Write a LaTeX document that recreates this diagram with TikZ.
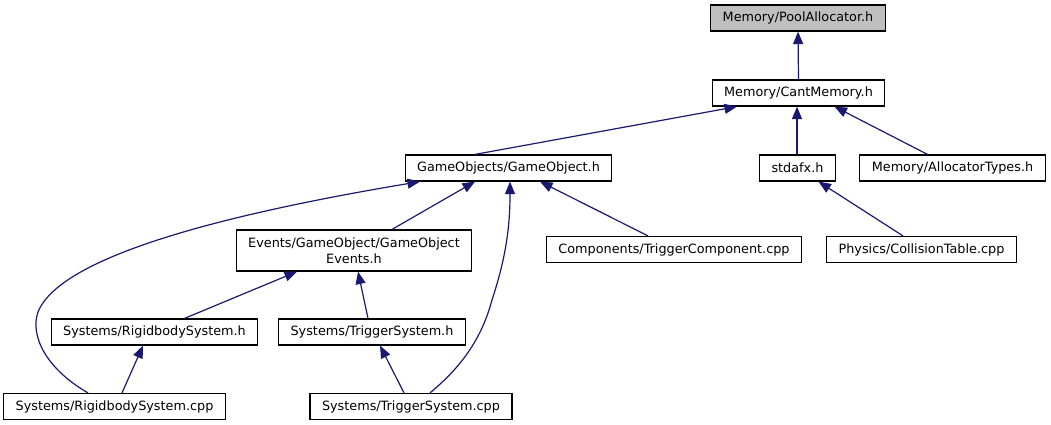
\documentclass[tikz,border=0pt]{standalone}
\usepackage{fontspec}
\setmainfont{DejaVu Sans}
\usetikzlibrary{arrows.meta}

\definecolor{edgeblue}{HTML}{191970}
\definecolor{rootgray}{HTML}{BFBFBF}

\tikzset{
  file/.style={draw=black, line width=1.2pt, fill=white, minimum height=26pt,
    inner xsep=12pt, inner ysep=3pt, font=\fontsize{12.8}{15.5}\selectfont},
  dep/.style={draw=edgeblue, line width=1.2pt,
    -{Triangle[length=12.5pt,width=10pt,fill=edgeblue]}}
}

\begin{document}
\begin{tikzpicture}[x=1pt,y=-1pt]
	% Canvas in pixel units
	\useasboundingbox (0,0) rectangle (1051,425);
	
	% Top row: the header and the one that includes it
	\node[file, fill=rootgray] (pool) at (798,18) {Memory/PoolAllocator.h};
	\node[file] (cant) at (798.5,93) {Memory/CantMemory.h};
	
	% Second row
	\node[file] (gameobj) at (508.5,168) {GameObjects/GameObject.h};
	\node[file] (stdafx) at (797.5,168) {stdafx.h};
	\node[file] (alloc) at (952.5,168) {Memory/AllocatorTypes.h};
	
	% Third row
	\node[file, align=center, minimum height=41pt] (events) at (354,250.5) {Events/GameObject/GameObject\\Events.h};
	\node[file] (trigcomp) at (674,249.5) {Components/TriggerComponent.cpp};
	\node[file] (colltable) at (921.5,249.5) {Physics/CollisionTable.cpp};
	
	% Systems headers
	\node[file] (rigidh) at (154.5,332) {Systems/RigidbodySystem.h};
	\node[file] (trigh) at (372,332) {Systems/TriggerSystem.h};
	
	% Systems sources
	\node[file] (rigidcpp) at (114.5,406.5) {Systems/RigidbodySystem.cpp};
	\node[file] (trigcpp) at (411,406.5) {Systems/TriggerSystem.cpp};
	
	% Edges up to the memory headers
	\draw[dep] (cant.north) -- (pool.south);
	\draw[dep] ([xshift=-33.5pt]gameobj.north) -- ([xshift=-61.5pt]cant.south);
	\draw[dep] ([xshift=-0.5pt]stdafx.north) -- ([xshift=-1.5pt]cant.south);
	\draw[dep] ([xshift=-25pt]alloc.north) -- ([xshift=36pt]cant.south);
	
	% Edges up to GameObject.h
	\draw[dep] ([xshift=38pt]events.north) -- ([xshift=-33.5pt]gameobj.south);
	\draw[dep] ([xshift=-26pt]trigcomp.north) -- ([xshift=31.5pt]gameobj.south);
	\draw[dep] ([xshift=-26.5pt]rigidcpp.north) .. controls (45,368) and (30,335) .. (38,312)
		.. controls (62,252) and (250,210) .. ([xshift=-88.5pt]gameobj.south);
	\draw[dep] ([xshift=19pt]trigcpp.north) .. controls (455,372) and (480,345) .. (492,300)
		.. controls (505,260) and (510,230) .. ([xshift=1.5pt]gameobj.south);
	
	% Edge up to stdafx.h
	\draw[dep] ([xshift=-18.5pt]colltable.north) -- ([xshift=21pt]stdafx.south);
	
	% Edges up to the event header
	\draw[dep] ([xshift=30pt]rigidh.north) -- ([xshift=-57pt]events.south);
	\draw[dep] ([xshift=-4pt]trigh.north) -- ([xshift=4pt]events.south);
	
	% Edges up to the system headers
	\draw[dep] ([xshift=7.5pt]rigidcpp.north) -- ([xshift=-11.5pt]rigidh.south);
	\draw[dep] ([xshift=-7pt]trigcpp.north) -- ([xshift=8pt]trigh.south);
\end{tikzpicture}
\end{document}
